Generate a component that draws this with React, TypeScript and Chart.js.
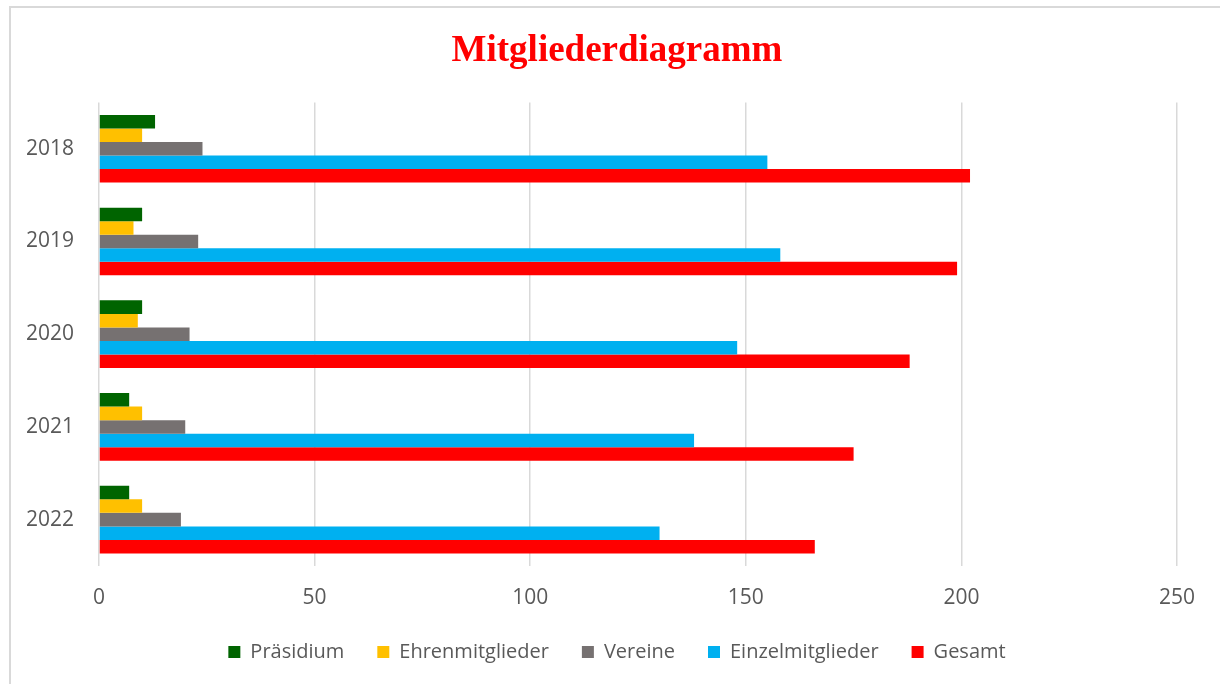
import React, { useEffect, useRef } from "react";
import { Chart, registerables } from "chart.js";

Chart.register(...registerables);

const years = ["2018", "2019", "2020", "2021", "2022"];
const praesidium = [13, 10, 10, 7, 7];
const ehrenmitglieder = [10, 8, 9, 10, 10];
const vereine = [24, 23, 21, 20, 19];
const einzelmitglieder = [155, 158, 148, 138, 130];
const gesamt = [202, 199, 188, 175, 166];

const seriesNames = ["Präsidium", "Ehrenmitglieder", "Vereine", "Einzelmitglieder", "Gesamt"];
const seriesColors = ["#006400", "#FFC000", "#767171", "#00B0F0", "#FF0000"];

const unclipYLabels = {
  id: "unclipYLabels",
  beforeDraw(chart: any) {
    const s = chart.scales && chart.scales.y;
    if (s) s.left = 0;
  },
};

export default function App() {
  const ref = useRef<HTMLCanvasElement | null>(null);

  useEffect(() => {
    if (!ref.current) return;
    const values = [praesidium, ehrenmitglieder, vereine, einzelmitglieder, gesamt];
    const chart = new Chart(ref.current, {
      type: "bar",
      data: {
        labels: years,
        datasets: values.map((v, i) => ({
          label: seriesNames[i],
          data: v,
          backgroundColor: seriesColors[i],
          borderWidth: 0,
          categoryPercentage: 0.73,
          barPercentage: 1,
        })),
      },
      plugins: [unclipYLabels],
      options: {
        indexAxis: "y",
        responsive: false,
        animation: false,
        devicePixelRatio: 1,
        layout: { padding: { left: 57, right: 43, top: 0, bottom: 12 } },
        plugins: {
          title: {
            display: true,
            text: "Mitgliederdiagramm",
            color: "#FF0000",
            font: { family: "'Liberation Serif', serif", size: 37, weight: "bold" },
            padding: { top: 29, bottom: 29 },
          },
          legend: {
            position: "bottom",
            labels: {
              color: "#595959",
              font: { family: "'Open Sans', sans-serif", size: 20 },
              boxWidth: 12,
              boxHeight: 12,
              padding: 33,
            },
          },
          tooltip: { enabled: false },
        },
        scales: {
          x: {
            min: 0,
            max: 250,
            ticks: {
              stepSize: 50,
              color: "#595959",
              font: { family: "'Open Sans', sans-serif", size: 21 },
              padding: 19,
            },
            grid: { color: "#d9d9d9", lineWidth: 1.5, drawTicks: false },
            border: { display: false },
            afterFit: (scale: any) => {
              scale.height = 43;
            },
          },
          y: {
            ticks: {
              color: "#595959",
              font: { family: "'Open Sans', sans-serif", size: 21 },
              padding: 25,
            },
            grid: { display: false, drawTicks: false },
            border: { display: false },
            afterFit: (scale: any) => {
              scale.width = 42;
            },
          },
        },
      },
    });
    return () => chart.destroy();
  }, []);

  return (
    <div
      style={{
        position: "fixed",
        left: 0,
        top: 0,
        width: 1220,
        height: 684,
        overflow: "hidden",
        background: "#ffffff",
      }}
    >
      <canvas ref={ref} width={1220} height={684} style={{ position: "absolute", left: 0, top: 0 }} />
      <div
        style={{
          position: "absolute",
          left: 9,
          top: 6,
          width: 1300,
          height: 800,
          border: "2px solid #d9d9d9",
          pointerEvents: "none",
        }}
      />
    </div>
  );
}
